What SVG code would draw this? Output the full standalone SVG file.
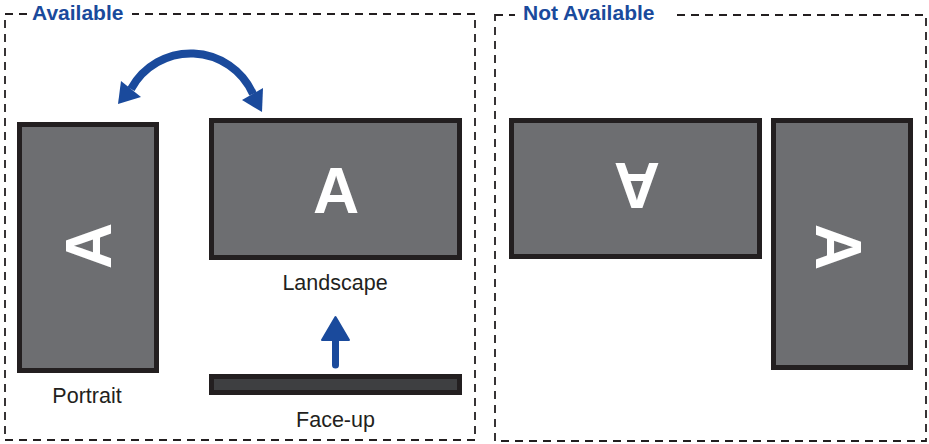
<svg xmlns="http://www.w3.org/2000/svg" width="929" height="444" viewBox="0 0 929 444">
<style>
.frame{fill:none;stroke:#231f20;stroke-width:1.8;stroke-dasharray:8 6}
.title{font-family:"Liberation Sans",Arial,sans-serif;font-weight:bold;font-size:21px;fill:#1a4a9c}
.lbl{font-family:"Liberation Sans",Arial,sans-serif;font-size:21.5px;fill:#231f20;text-anchor:middle}
.scr{fill:#6d6e71;stroke:#231f20;stroke-width:5}
.flat{fill:#3e3f41;stroke:#231f20;stroke-width:5}
.big{font-family:"Liberation Sans",Arial,sans-serif;font-weight:bold;font-size:64px;fill:#ffffff;text-anchor:middle}
.blue{fill:#1a4a9c}
</style>
<rect width="929" height="444" fill="#ffffff"/>
<g id="available">
<rect class="frame" x="5" y="14" width="470" height="426"/>
<rect x="28" y="4" width="104" height="20" fill="#ffffff"/>
<text class="title" x="32" y="20">Available</text>
</g>
<g id="not-available">
<rect class="frame" x="495" y="15" width="431" height="426"/>
<rect x="515" y="4" width="156" height="20" fill="#ffffff"/>
<text class="title" x="523" y="20">Not Available</text>
</g>
<g id="portrait">
<rect class="scr" x="19.5" y="124.5" width="137" height="246"/>
<text class="big" transform="translate(88,246) rotate(-90)" x="0" y="23">A</text>
<text class="lbl" x="87" y="403">Portrait</text>
</g>
<g id="landscape">
<rect class="scr" x="211.5" y="120.5" width="248" height="137"/>
<text class="big" transform="translate(336,190)" x="0" y="23">A</text>
<text class="lbl" x="335" y="290">Landscape</text>
</g>
<g id="face-up">
<rect class="flat" x="211.5" y="376.5" width="248" height="16"/>
<text class="lbl" x="335.5" y="427">Face-up</text>
</g>
<g id="landscape-upside-down">
<rect class="scr" x="511.5" y="120.5" width="248" height="136"/>
<text class="big" transform="translate(637,185.5) rotate(180)" x="0" y="23">A</text>
</g>
<g id="portrait-flipped">
<rect class="scr" x="773.5" y="120.5" width="137" height="247"/>
<text class="big" transform="translate(838.5,247) rotate(90)" x="0" y="23">A</text>
</g>
<g id="connectors">
<path d="M131,89 A68,68 0 0 1 253,94" fill="none" stroke="#1a4a9c" stroke-width="8"/>
<polygon class="blue" points="118,104 121,81 141,97"/>
<polygon class="blue" points="262,112 242,100 263,88"/>
<line x1="335.5" y1="365" x2="335.5" y2="336" stroke="#1a4a9c" stroke-width="7" stroke-linecap="round"/>
<polygon class="blue" points="335.5,317 349,340 322,340" stroke="#1a4a9c" stroke-width="2" stroke-linejoin="round"/>
</g>
</svg>
